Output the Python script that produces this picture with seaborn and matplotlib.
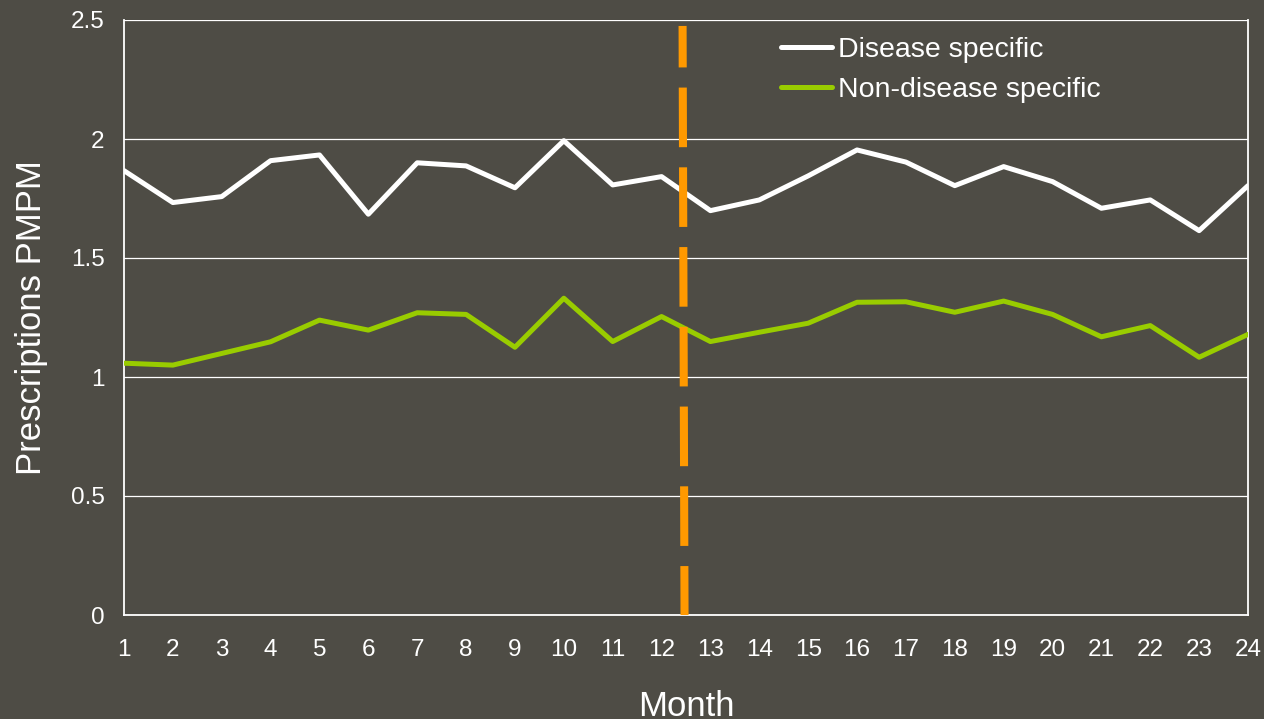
import matplotlib
matplotlib.use("Agg")
import matplotlib.pyplot as plt
import seaborn as sns
import pandas as pd
from matplotlib.ticker import FuncFormatter

# Monthly prescriptions per member per month
months = list(range(1, 25))
disease_specific = [1.867, 1.733, 1.758, 1.909, 1.933, 1.684, 1.900, 1.887,
                    1.795, 1.993, 1.807, 1.842, 1.699, 1.744, 1.845, 1.954,
                    1.903, 1.804, 1.884, 1.821, 1.709, 1.744, 1.615, 1.804]
non_disease_specific = [1.058, 1.050, 1.099, 1.148, 1.239, 1.197, 1.270, 1.263,
                        1.125, 1.331, 1.149, 1.254, 1.149, 1.188, 1.226, 1.314,
                        1.316, 1.272, 1.319, 1.263, 1.169, 1.216, 1.083, 1.179]
series_names = ["Disease specific", "Non-disease specific"]
y_ticks = [0, 0.5, 1, 1.5, 2, 2.5]

# Program start marker between month 12 and 13
marker_x = [12.43, 12.47]
marker_y = [2.475, 0.0]

BG = "#4e4c45"
FG = "#ffffff"
GREEN = "#99cc00"
ORANGE = "#ff9900"

sns.set_theme(style="white", rc={
    "figure.facecolor": BG,
    "axes.facecolor": BG,
    "savefig.facecolor": BG,
})
plt.rcParams["font.family"] = ["Liberation Sans", "DejaVu Sans"]

df = pd.DataFrame({
    "Month": months * 2,
    "value": disease_specific + non_disease_specific,
    "series": [series_names[0]] * len(months) + [series_names[1]] * len(months),
})

fig = plt.figure(figsize=(12.64, 7.19), dpi=100)
ax = fig.add_axes([124 / 1264, 1 - 615 / 719, (1248 - 124) / 1264, (615 - 20) / 719])

sns.lineplot(data=df, x="Month", y="value", hue="series", hue_order=series_names,
             palette={series_names[0]: FG, series_names[1]: GREEN},
             linewidth=3.6, ax=ax, legend=True, zorder=3)

ax.plot(marker_x, marker_y, color=ORANGE, linewidth=5.8,
        linestyle=(2.25, (7.4, 2.5)), solid_capstyle="butt",
        dash_capstyle="butt", zorder=4)

ax.set_xlim(1, 24)
ax.set_ylim(0, 2.5)
ax.set_xticks(months)
ax.set_yticks(y_ticks)
ax.yaxis.set_major_formatter(FuncFormatter(lambda v, p: f"{v:g}"))

ax.grid(axis="y", color=FG, linewidth=0.9, zorder=0)
ax.set_axisbelow(True)
for side in ["left", "bottom", "right"]:
    ax.spines[side].set_color(FG)
    ax.spines[side].set_linewidth(1.3)
ax.spines["top"].set_visible(False)

ax.tick_params(axis="both", colors=FG, labelcolor=FG, labelsize=17.5,
               direction="out", length=6, width=1.1)
ax.tick_params(axis="y", pad=8)
ax.tick_params(axis="x", pad=11)

ax.set_xlabel("Month", color=FG, fontsize=25, labelpad=21)
ax.set_ylabel("Prescriptions PMPM", color=FG, fontsize=25, labelpad=16)

leg = ax.legend(loc="upper left", bbox_to_anchor=(0.5665, 1.005), frameon=False,
                fontsize=20.5, handlelength=1.8, handletextpad=0.2,
                labelspacing=0.49, borderaxespad=0.3)
for text in leg.get_texts():
    text.set_color(FG)
for line in leg.get_lines():
    line.set_linewidth(3.6)

fig.savefig("out.png", dpi=100, facecolor=BG)
